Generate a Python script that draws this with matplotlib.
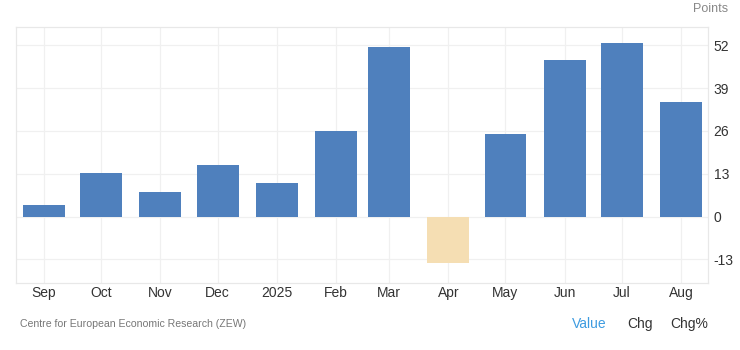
import datetime as dt
import matplotlib
matplotlib.use("Agg")
import matplotlib.pyplot as plt
import matplotlib.dates as mdates

plt.rcParams['font.family'] = ['Liberation Sans', 'DejaVu Sans']

# ZEW economic sentiment, monthly readings
months = ["2024-09-01", "2024-10-01", "2024-11-01", "2024-12-01", "2025-01-01", "2025-02-01",
          "2025-03-01", "2025-04-01", "2025-05-01", "2025-06-01", "2025-07-01", "2025-08-01"]
values = [3.6, 13.1, 7.4, 15.7, 10.3, 26.0, 51.6, -14.0, 25.2, 47.5, 52.7, 34.7]
tick_labels = ["Sep", "Oct", "Nov", "Dec", "2025", "Feb", "Mar", "Apr", "May", "Jun", "Jul", "Aug"]
y_ticks = [-13, 0, 13, 26, 39, 52]

dates = [dt.datetime.strptime(m, "%Y-%m-%d") for m in months]
xnum = mdates.date2num(dates)

POS = "#4f80bd"
NEG = "#f5deb3"
GRID = "#f0f0f0"

fig = plt.figure(figsize=(7.4, 3.5), dpi=100)
ax = fig.add_axes([16 / 740, 1 - 283 / 350, (708 - 16) / 740, (283 - 27) / 350])

colors = [POS if v >= 0 else NEG for v in values]
ax.bar(xnum, values, width=22, color=colors, zorder=2)

ax.set_xlim(xnum[0] - 14.7, xnum[-1] + 14.2)
ax.set_ylim(-20.2, 57.6)

ax.set_xticks(xnum)
ax.set_xticklabels(tick_labels, fontsize=10, color="#333333")
ax.set_yticks(y_ticks)
ax.set_yticklabels([str(t) for t in y_ticks], fontsize=10, color="#333333")
ax.yaxis.tick_right()
ax.tick_params(axis="both", length=0)
ax.tick_params(axis="x", pad=2)
ax.tick_params(axis="y", pad=4)

ax.grid(True, color=GRID, linewidth=0.9, zorder=0)
ax.set_axisbelow(True)
for side in ["left", "right", "top", "bottom"]:
    ax.spines[side].set_color("#e8e8e8")
    ax.spines[side].set_linewidth(0.9)

fig.text(728 / 740, 1 - 9 / 350, "Points", ha="right", va="center", fontsize=9, color="#888888")
fig.text(20 / 740, 1 - 324 / 350, "Centre for European Economic Research (ZEW)",
         ha="left", va="center", fontsize=7.6, color="#777777")
fig.text(572 / 740, 1 - 324 / 350, "Value", ha="left", va="center", fontsize=10, color="#3d9be0")
fig.text(627 / 740, 1 - 324 / 350, "Chg", ha="left", va="center", fontsize=10, color="#333333")
fig.text(670 / 740, 1 - 324 / 350, "Chg%", ha="left", va="center", fontsize=10, color="#333333")

fig.savefig("out.png", dpi=100, facecolor="white")
